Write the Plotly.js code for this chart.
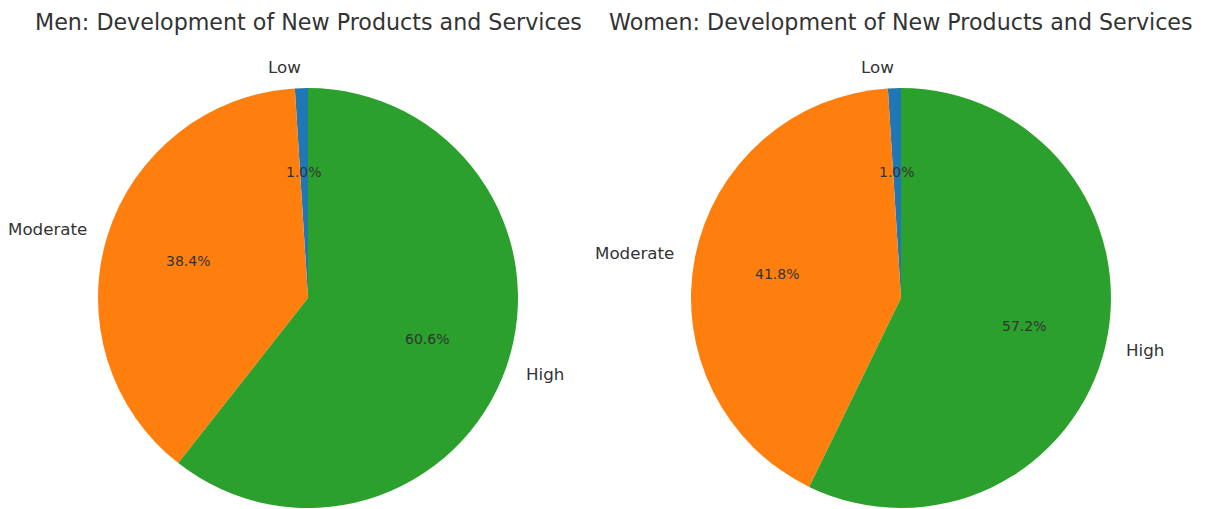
<!DOCTYPE html>
<html>
<head>
<meta charset="utf-8">
<script src="https://cdn.plot.ly/plotly-3.0.1.min.js"></script>
<style>html,body{margin:0;padding:0;background:#fff;}#chart{width:1208px;height:509px;}</style>
</head>
<body>
<div id="chart"></div>
<script>
const categories = ["Low", "Moderate", "High"];
const menValues = [1.0, 38.4, 60.6];
const womenValues = [1.0, 41.8, 57.2];
const titles = ["Men: Development of New Products and Services", "Women: Development of New Products and Services"];
const colors = ["#1f77b4", "#ff7f0e", "#2ca02c"];

const W = 1208, H = 509;
const R = 210;
const centers = [[308, 298], [901, 298]];
const seriesList = [menValues, womenValues];
const txtColor = "#333333";
const fontFam = "DejaVu Sans, sans-serif";

const traces = [];
const annotations = [];

seriesList.forEach((vals, i) => {
  const [cx, cy] = centers[i];
  const total = vals.reduce((a, b) => a + b, 0);
  traces.push({
    type: "pie",
    labels: categories,
    values: vals,
    sort: false,
    direction: "counterclockwise",
    rotation: -vals[0] / total * 360,
    textinfo: "none",
    hoverinfo: "label+percent",
    marker: {colors: colors, line: {width: 0}},
    showlegend: false,
    domain: {x: [(cx - R) / W, (cx + R) / W], y: [(H - cy - R) / H, (H - cy + R) / H]}
  });
  let start = 90;
  vals.forEach((v, k) => {
    const span = v / total * 360;
    const mid = (start + span / 2) * Math.PI / 180;
    start += span;
    const lx = cx + Math.cos(mid) * R * 1.1;
    const ly = cy - Math.sin(mid) * R * 1.1;
    annotations.push({
      xref: "paper", yref: "paper", x: lx / W, y: (H - ly) / H,
      text: categories[k], showarrow: false, borderpad: 0, borderwidth: 0,
      xanchor: Math.cos(mid) < 0 ? "right" : "left", yanchor: "middle",
      font: {family: fontFam, size: 16.7, color: txtColor}
    });
    const px = cx + Math.cos(mid) * R * 0.6;
    const py = cy - Math.sin(mid) * R * 0.6;
    annotations.push({
      xref: "paper", yref: "paper", x: px / W, y: (H - py) / H,
      text: (v / total * 100).toFixed(1) + "%", showarrow: false, borderpad: 0, borderwidth: 0,
      xanchor: "center", yanchor: "middle",
      font: {family: fontFam, size: 14, color: txtColor}
    });
  });
  annotations.push({
    xref: "paper", yref: "paper", x: cx / W, y: (H - 22) / H,
    text: titles[i], showarrow: false, xanchor: "center", yanchor: "middle",
    font: {family: fontFam, size: 22.2, color: txtColor}
  });
});

Plotly.newPlot("chart", traces, {
  width: W, height: H,
  margin: {l: 0, r: 0, t: 0, b: 0},
  paper_bgcolor: "#ffffff",
  annotations: annotations
}, {displayModeBar: false, staticPlot: true});
</script>
</body>
</html>
